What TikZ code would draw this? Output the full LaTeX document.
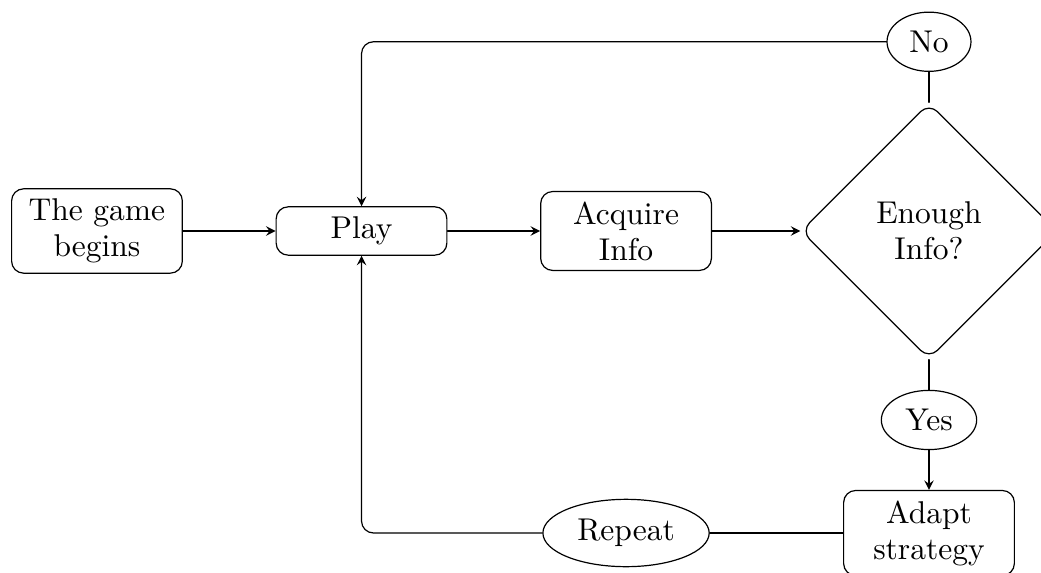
\documentclass[tikz,border=0pt]{standalone}
\usetikzlibrary{shapes.geometric}

\tikzset{
  every node/.style={font=\fontsize{10.5}{12}\selectfont},
  box/.style={draw, rectangle, rounded corners, minimum width=2cm, align=center},
  decision/.style={draw, diamond, rounded corners, aspect=1, minimum size=3cm, align=center},
  answer/.style={draw, ellipse},
}

\begin{document}
\begin{tikzpicture}[>=stealth, line cap=round, line join=round]
\useasboundingbox (0,0) rectangle (12.195,-6.701);

% main row
\node[box] (game) at (1.136,-2.706) {The game\\begins};
\node[box] (play) at (4.235,-2.706) {Play};
\node[box] (acquire) at (7.334,-2.706) {Acquire\\Info};
\node[decision] (enough) at (10.883,-2.706) {Enough\\Info?};

% answers and the way back
\node[answer] (no) at (10.883,-0.489) {No};
\node[answer] (yes) at (10.883,-4.920) {Yes};
\node[box] (adapt) at (10.883,-6.244) {Adapt\\strategy};
\node[answer] (repeat) at (7.334,-6.244) {Repeat};

\draw[->] (game) -- (play);
\draw[->] (play) -- (acquire);
\draw[->] (acquire) -- (enough);

\draw (enough) -- (no);
\draw[->, rounded corners] (no) -| (play);

\draw (enough) -- (yes);
\draw[->] (yes) -- (adapt);
\draw (adapt) -- (repeat);
\draw[->, rounded corners] (repeat) -| (play);

\end{tikzpicture}
\end{document}
